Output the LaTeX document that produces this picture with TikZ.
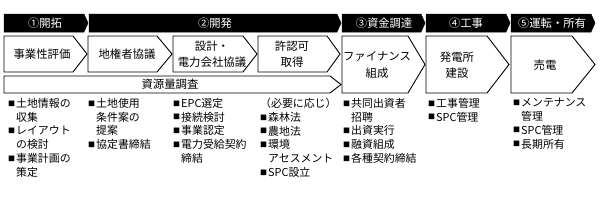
\documentclass[tikz,border=0pt]{standalone}
\usepackage{fontspec}
\setmainfont{Noto Sans CJK JP}
\newcommand\bu{\makebox[8pt][l]{\raisebox{1.3pt}{\fontsize{7}{7}\selectfont ■}}}
\newcommand\ind{\hspace*{8pt}}
\begin{document}
\begin{tikzpicture}[x=1pt,y=-1pt,
  hdr/.style={fill=black,draw=black,line width=0.5pt,line join=miter},
  box/.style={draw=black,line width=0.9pt,fill=white,line join=miter},
  htext/.style={text=white,font=\fontsize{11.3}{12}\selectfont,inner sep=0pt},
  btext/.style={font=\fontsize{11.4}{16.5}\selectfont,align=center,inner sep=0pt},
  ltext/.style={font=\fontsize{10.9}{13.8}\selectfont,align=left,inner sep=0pt,anchor=north west}]
\useasboundingbox (0,0) rectangle (600,204);
% header chevrons
\draw[hdr] (4,14) -- (84,14) -- (88,23) -- (84,32) -- (4,32) -- cycle;
\draw[hdr] (89,14) -- (337,14) -- (341,23) -- (337,32) -- (89,32) -- cycle;
\draw[hdr] (342,14) -- (421,14) -- (425,23) -- (421,32) -- (342,32) -- cycle;
\draw[hdr] (426,14) -- (506,14) -- (510,23) -- (506,32) -- (426,32) -- cycle;
\draw[hdr] (511,14) -- (591,14) -- (595,23) -- (591,32) -- (511,32) -- cycle;
\node[htext] (h1) at (45,23) {①開拓};
\node[htext] (h2) at (215,23) {②開発};
\node[htext] (h3) at (384,23) {③資金調達};
\node[htext] (h4) at (466,23) {④工事};
\node[htext] (h5) at (552,23) {⑤運転・所有};
% step boxes
\draw[box] (4,36) -- (73,36) -- (87,54) -- (73,72) -- (4,72) -- cycle;
\draw[box] (88,36) -- (157,36) -- (172,54) -- (157,72) -- (88,72) -- cycle;
\draw[box] (173,36) -- (243,36) -- (257,54) -- (243,72) -- (173,72) -- cycle;
\draw[box] (258,36) -- (327,36) -- (340,54) -- (327,72) -- (258,72) -- cycle;
\draw[box] (342,36) -- (408,36) -- (425,64.5) -- (408,93) -- (342,93) -- cycle;
\draw[box] (426,36) -- (487,36) -- (509,64.5) -- (487,93) -- (426,93) -- cycle;
\draw[box] (511,36) -- (572,36) -- (595,64.5) -- (572,93) -- (511,93) -- cycle;
\draw[box] (4,76) -- (330,76) -- (341,84.5) -- (330,93) -- (4,93) -- cycle;
\node[btext] (b1) at (42,54) {事業性評価};
\node[btext] (b2) at (127,54) {地権者協議};
\node[btext] (b3) at (212,54) {設計・\\電力会社協議};
\node[btext] (b4) at (292,54) {許認可\\取得};
\node[btext] (b5) at (377,65) {ファイナンス\\組成};
\node[btext] (b6) at (457,65) {発電所\\建設};
\node[btext] (b7) at (545,65) {売電};
\node[btext] (b8) at (170,84.5) {資源量調査};
% lists
\node[ltext] (l1) at (8,98) {\bu 土地情報の\\\ind 収集\\\bu レイアウト\\\ind の検討\\\bu 事業計画の\\\ind 策定};
\node[ltext] (l2) at (88,98) {\bu 土地使用\\\ind 条件案の\\\ind 提案\\\bu 協定書締結};
\node[ltext] (l3) at (173,98) {\bu EPC選定\\\bu 接続検討\\\bu 事業認定\\\bu 電力受給契約\\\ind 締結};
\node[ltext] (l4) at (260,98) {（必要に応じ）\\\bu 森林法\\\bu 農地法\\\bu 環境\\\ind アセスメント\\\bu SPC設立};
\node[ltext] (l5) at (343,98) {\bu 共同出資者\\\ind 招聘\\\bu 出資実行\\\bu 融資組成\\\bu 各種契約締結};
\node[ltext] (l6) at (428,98) {\bu 工事管理\\\bu SPC管理};
\node[ltext] (l7) at (513,98) {\bu メンテナンス\\\ind 管理\\\bu SPC管理\\\bu 長期所有};
\end{tikzpicture}
\end{document}
